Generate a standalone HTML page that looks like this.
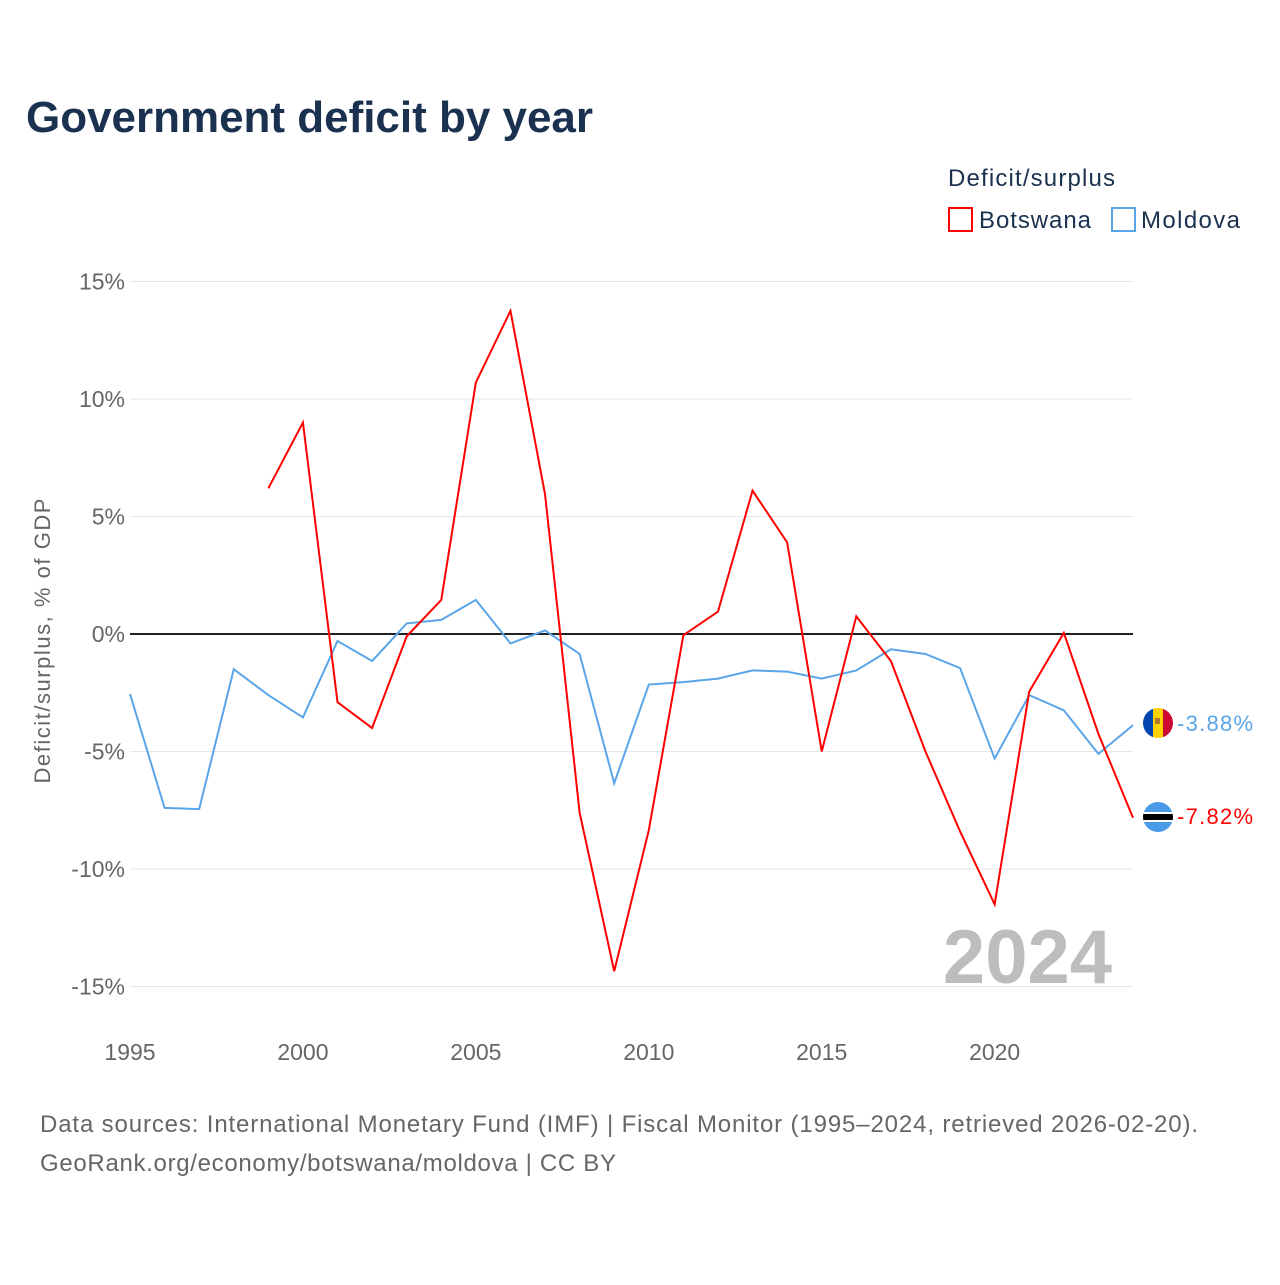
<!DOCTYPE html>
<html><head><meta charset="utf-8"><style>
body{margin:0;background:#fff;font-family:"Liberation Sans",sans-serif;}
</style></head><body>
<svg width="1280" height="1280" xmlns="http://www.w3.org/2000/svg" id="chart">
<text x="26" y="132" font-size="44" font-weight="bold" fill="#1a3150" textLength="567">Government deficit by year</text>
<text x="948" y="186" font-size="24" fill="#1a3150" textLength="167">Deficit/surplus</text>
<g><rect x="949" y="208" width="23" height="23" fill="none" stroke="#ff0000" stroke-width="2"/><text x="979" y="228" font-size="24" fill="#1a3150" textLength="112">Botswana</text></g>
<g><rect x="1112" y="208" width="23" height="23" fill="none" stroke="#5aa5e8" stroke-width="2"/><text x="1141" y="228" font-size="24" fill="#1a3150" textLength="99">Moldova</text></g>
<g id="grid"></g>
<g id="xt"></g>
<text transform="translate(50,641) rotate(-90)" text-anchor="middle" font-size="22" fill="#666" textLength="285">Deficit/surplus, % of GDP</text>
<text x="1112" y="983" text-anchor="end" font-size="76" font-weight="bold" fill="#bdbdbd">2024</text>
<g id="lines"></g>
<g>
<clipPath id="c1"><circle cx="1158" cy="723" r="15"/></clipPath>
<g clip-path="url(#c1)"><rect x="1143" y="708" width="10" height="30" fill="#0046ae"/><rect x="1153" y="708" width="10" height="30" fill="#ffd200"/><rect x="1163" y="708" width="10" height="30" fill="#cc092f"/><rect x="1155" y="718" width="5" height="6" fill="#b07a2a"/></g></g>
<g>
<clipPath id="c2"><circle cx="1158" cy="817" r="15"/></clipPath>
<g clip-path="url(#c2)"><rect x="1143" y="802" width="30" height="30" fill="#4a9ae8"/><rect x="1143" y="812" width="30" height="10" fill="#fff"/><rect x="1143" y="814" width="30" height="6" fill="#000"/></g></g>
<text x="1177" y="731" font-size="22" fill="#5aa5e8" textLength="76">-3.88%</text>
<text x="1177" y="824" font-size="22" fill="#ff0000" textLength="76">-7.82%</text>
<text x="40" y="1132" font-size="24" fill="#666" textLength="1158">Data sources: International Monetary Fund (IMF) | Fiscal Monitor (1995–2024, retrieved 2026-02-20).</text>
<text x="40" y="1171" font-size="24" fill="#666" textLength="576">GeoRank.org/economy/botswana/moldova | CC BY</text>
</svg>
<script>
const yearsBw=[1999,2000,2001,2002,2003,2004,2005,2006,2007,2008,2009,2010,2011,2012,2013,2014,2015,2016,2017,2018,2019,2020,2021,2022,2023,2024];
const botswana=[6.2,9.0,-2.9,-4.0,-0.1,1.45,10.7,13.75,5.95,-7.6,-14.35,-8.35,-0.05,0.95,6.1,3.9,-5.0,0.75,-1.15,-5.0,-8.4,-11.5,-2.45,0.05,-4.25,-7.82];
const yearsMd=[1995,1996,1997,1998,1999,2000,2001,2002,2003,2004,2005,2006,2007,2008,2009,2010,2011,2012,2013,2014,2015,2016,2017,2018,2019,2020,2021,2022,2023,2024];
const moldova=[-2.55,-7.4,-7.45,-1.5,-2.6,-3.55,-0.3,-1.15,0.45,0.6,1.45,-0.4,0.15,-0.85,-6.35,-2.15,-2.05,-1.9,-1.55,-1.6,-1.9,-1.55,-0.65,-0.85,-1.45,-5.3,-2.6,-3.25,-5.1,-3.88];
const yTicks=[15,10,5,0,-5,-10,-15];
const xTicks=[1995,2000,2005,2010,2015,2020];
const NS="http://www.w3.org/2000/svg";
const X=y=>130+(y-1995)*(1133-130)/29;
const Y=v=>634-v*23.5;
const grid=document.getElementById('grid');
yTicks.forEach(t=>{
  const l=document.createElementNS(NS,'line');
  l.setAttribute('x1',130);l.setAttribute('x2',1133);l.setAttribute('y1',Y(t));l.setAttribute('y2',Y(t));
  l.setAttribute('stroke',t===0?'#222':'#e6e6e6');l.setAttribute('stroke-width',t===0?2:1);
  
  
  grid.appendChild(l);
  const tx=document.createElementNS(NS,'text');
  tx.setAttribute('x',125);tx.setAttribute('y',Y(t)+8);tx.setAttribute('text-anchor','end');
  tx.setAttribute('font-size',23);tx.setAttribute('fill','#666');tx.textContent=t+'%';
  
  
  grid.appendChild(tx);
});
const xt=document.getElementById('xt');
xTicks.forEach(t=>{
  const tx=document.createElementNS(NS,'text');
  tx.setAttribute('x',X(t));tx.setAttribute('y',1060);tx.setAttribute('text-anchor','middle');
  tx.setAttribute('font-size',23);tx.setAttribute('fill','#666');tx.textContent=t;
  
  
  xt.appendChild(tx);
});
const lines=document.getElementById('lines');
function draw(ys,vs,col,name){
  const p=document.createElementNS(NS,'polyline');
  p.setAttribute('points',ys.map((y,i)=>X(y)+','+Y(vs[i])).join(' '));
  p.setAttribute('fill','none');p.setAttribute('stroke',col);p.setAttribute('stroke-width',2);
  
  
  lines.appendChild(p);
}
draw(yearsMd,moldova,'#5aa5e8','moldova-line');
draw(yearsBw,botswana,'#ff0000','botswana-line');
</script>
</body></html>
